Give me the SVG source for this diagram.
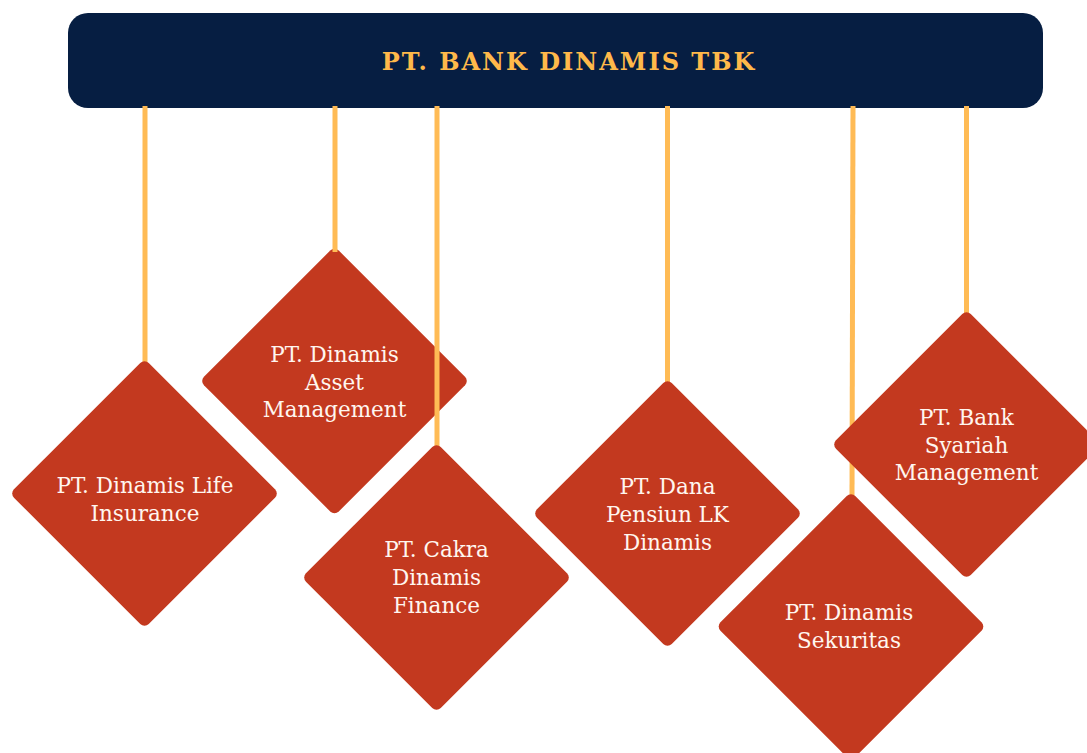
<svg xmlns="http://www.w3.org/2000/svg" width="1087" height="753" viewBox="0 0 1087 753">
<style>
.dia{fill:#c3391f}
.lbl{font-family:"DejaVu Serif","Liberation Serif",serif;font-size:21.5px;fill:#fff6ef;text-anchor:middle}
.con{stroke:#ffbb55;stroke-width:5;fill:none}
.hdr{font-family:"DejaVu Serif","Liberation Serif",serif;font-size:24px;font-weight:bold;fill:#ffb94a;text-anchor:middle;letter-spacing:2px}
</style>
<defs>
<rect id="d" x="-95.3" y="-95.3" width="190.6" height="190.6" rx="6" transform="rotate(45)"/>
</defs>
<rect width="1087" height="753" fill="#ffffff"/>
<g id="header">
<rect x="68" y="13" width="975" height="95" rx="20" fill="#061e42"/>
<text class="hdr" x="569" y="70">PT. BANK DINAMIS TBK</text>
</g>
<g id="node-asset">
<use href="#d" class="dia" x="334.5" y="381"/>
<text class="lbl" x="334.5" y="362">PT. Dinamis</text>
<text class="lbl" x="334.5" y="389.5">Asset</text>
<text class="lbl" x="334.5" y="417">Management</text>
</g>
<g id="connectors">
<line class="con" x1="145" y1="106" x2="145" y2="364"/>
<line class="con" x1="335" y1="106" x2="335" y2="252"/>
<line class="con" x1="437" y1="106" x2="437" y2="448"/>
<line class="con" x1="667.5" y1="106" x2="667.5" y2="384"/>
<line class="con" x1="853" y1="106" x2="852" y2="497"/>
<line class="con" x1="966.5" y1="106" x2="966.5" y2="315"/>
</g>
<g id="node-life">
<use href="#d" class="dia" x="144.5" y="493.5"/>
<text class="lbl" x="145" y="493">PT. Dinamis Life</text>
<text class="lbl" x="145" y="521">Insurance</text>
</g>
<g id="node-cakra">
<use href="#d" class="dia" x="436.5" y="577.5"/>
<text class="lbl" x="436.5" y="557">PT. Cakra</text>
<text class="lbl" x="436.5" y="585">Dinamis</text>
<text class="lbl" x="436.5" y="613">Finance</text>
</g>
<g id="node-dana">
<use href="#d" class="dia" x="667.5" y="513.5"/>
<text class="lbl" x="667.5" y="494">PT. Dana</text>
<text class="lbl" x="667.5" y="522">Pensiun LK</text>
<text class="lbl" x="667.5" y="550">Dinamis</text>
</g>
<g id="node-sekuritas">
<use href="#d" class="dia" x="851" y="626.5"/>
<text class="lbl" x="849" y="620">PT. Dinamis</text>
<text class="lbl" x="849" y="648">Sekuritas</text>
</g>
<g id="node-syariah">
<use href="#d" class="dia" x="966.5" y="444.5"/>
<text class="lbl" x="966.5" y="425">PT. Bank</text>
<text class="lbl" x="966.5" y="453">Syariah</text>
<text class="lbl" x="966.5" y="480">Management</text>
</g>
</svg>
